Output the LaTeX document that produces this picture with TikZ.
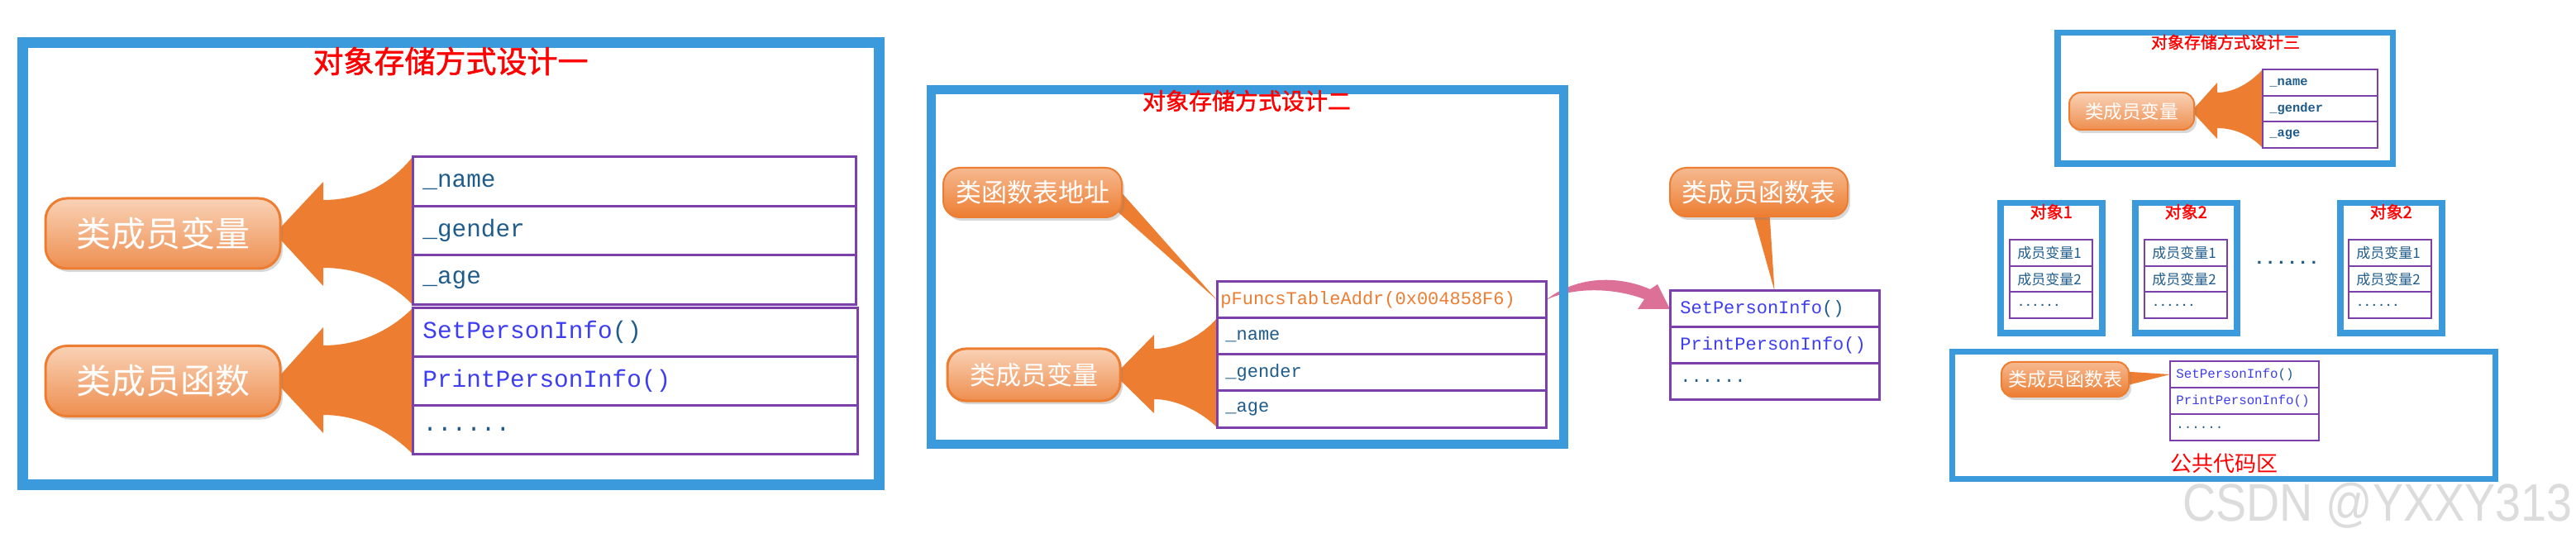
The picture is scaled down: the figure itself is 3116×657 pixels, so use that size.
\documentclass[tikz,border=0pt]{standalone}
\usepackage{fontspec}
\newfontfamily\cjk{Noto Sans CJK SC}
\newfontfamily\cjkb[FakeBold=1.5]{Noto Sans CJK SC}
\newfontfamily\code{Liberation Mono}
\newfontfamily\wmfont{Liberation Sans}
\usetikzlibrary{calc,shadows}
\pgfdeclarelayer{bg}
\pgfdeclarelayer{back}
\pgfsetlayers{bg,back,main}
\newcommand\setfs[1]{\fontsize{#1}{#1}\selectfont}
\definecolor{frameblue}{HTML}{3A9ADB}
\definecolor{rowpurple}{HTML}{7B40AA}
\definecolor{titlered}{HTML}{FF0000}
\definecolor{vteal}{HTML}{1F5C8B}
\definecolor{fblue}{HTML}{3D3DF2}
\definecolor{orangec}{HTML}{ED7D31}
\definecolor{pinkc}{HTML}{DC7096}
\definecolor{wmgray}{HTML}{DCDCDC}
\definecolor{softtop}{HTML}{F9D2B6}
\definecolor{softmid}{HTML}{F2A470}
\definecolor{softbot}{HTML}{EE8E4F}
\definecolor{solidtop}{HTML}{F6B990}
\begin{document}
\begin{tikzpicture}[x=0.5pt,y=-0.5pt,
  panelframe/.style={draw=frameblue, inner sep=0pt, outer sep=0pt, anchor=north west},
  rowbox/.style={draw=rowpurple, line width=1.5pt, inner sep=0pt, outer sep=0pt, anchor=north west},
  rowthin/.style={rowbox, line width=1.1pt},
  vtext/.style={text=vteal, anchor=west, inner sep=0pt},
  ftext/.style={text=fblue, anchor=west, inner sep=0pt},
  ttl/.style={text=titlered, inner sep=0pt},
  csoft/.style={draw=orangec, line width=1.5pt, top color=softtop, middle color=softmid, bottom color=softbot, text=white, inner sep=0pt, drop shadow={shadow xshift=1.5pt, shadow yshift=-2pt, opacity=0.3}},
  csolid/.style={draw=orangec, line width=1pt, top color=solidtop, middle color=orangec, bottom color=orangec, text=white, inner sep=0pt, drop shadow={shadow xshift=1.5pt, shadow yshift=-2pt, opacity=0.3}},
  bigarrow/.style={fill=orangec},
]
\begin{pgfonlayer}{bg}
\fill[white] (0,0) rectangle (3116,657);
\end{pgfonlayer}
\useasboundingbox (0,0) rectangle (3116,657);

%%%%%%%%%%%%%%%% Panel 1
\node[panelframe, line width=6.5pt, minimum width=518pt, minimum height=267.5pt] (P1) at (27.5,51.5) {};
\node[ttl, font=\cjkb\setfs{18.5}] (T1) at (545,74) {对象存储方式设计一};
% table A
\node[rowbox, minimum width=268pt, minimum height=29.75pt] (a1) at (499,190) {};
\node[rowbox, minimum width=268pt, minimum height=29.75pt] (a2) at (a1.south west) {};
\node[rowbox, minimum width=268pt, minimum height=29.75pt] (a3) at (a2.south west) {};
\node[vtext, font=\code\setfs{14.7}] (a1t) at ([xshift=6pt]a1.west) {\_name};
\node[vtext, font=\code\setfs{14.7}] (a2t) at ([xshift=6pt]a2.west) {\_gender};
\node[vtext, font=\code\setfs{14.7}] (a3t) at ([xshift=6pt]a3.west) {\_age};
% table B
\node[rowbox, minimum width=269pt, minimum height=29.35pt] (b1) at (499,373) {};
\node[rowbox, minimum width=269pt, minimum height=29.35pt] (b2) at (b1.south west) {};
\node[rowbox, minimum width=269pt, minimum height=29.35pt] (b3) at (b2.south west) {};
\node[ftext, font=\code\setfs{14.7}] (b1t) at ([xshift=6pt]b1.west) {SetPersonInfo\textcolor{vteal}{()}};
\node[ftext, font=\code\setfs{14.7}] (b2t) at ([xshift=6pt]b2.west) {PrintPersonInfo()};
\node[vtext, font=\code\setfs{14.7}] (b3t) at ([xshift=6pt]b3.west) {......};
% callouts
\node[csoft, rounded corners=13pt, minimum width=142pt, minimum height=42.5pt, font=\cjk\setfs{21}] (cv1) at (197,282.5) {类成员变量};
\node[csoft, rounded corners=13pt, minimum width=142pt, minimum height=42.5pt, font=\cjk\setfs{21}] (cf1) at (197,461) {类成员函数};
\begin{pgfonlayer}{back}
\fill[bigarrow] ([xshift=-4pt]cv1.east) -- (391,220) -- (391,242) .. controls (432,242) and (470,226) .. (a1.north west) -- (a3.south west) .. controls (470,339) and (432,324) .. (391,324) -- (391,346) -- cycle;
\fill[bigarrow] ([xshift=-4pt]cf1.east) -- (391,396) -- (391,418) .. controls (432,418) and (470,402) .. (b1.north west) -- (b3.south west) .. controls (470,520) and (432,502) .. (391,502) -- (391,524) -- cycle;
\end{pgfonlayer}

%%%%%%%%%%%%%%%% Panel 2
\node[panelframe, line width=5.5pt, minimum width=382.5pt, minimum height=214.5pt] (P2) at (1126.5,108.2) {};
\node[ttl, font=\cjkb\setfs{14}] (T2) at (1508,122) {对象存储方式设计二};
\node[rowbox, minimum width=199pt, minimum height=22pt] (pf) at (1472,341) {};
\node[rowbox, minimum width=199pt, minimum height=22pt] (c21) at (pf.south west) {};
\node[rowbox, minimum width=199pt, minimum height=22pt] (c22) at (c21.south west) {};
\node[rowbox, minimum width=199pt, minimum height=22pt] (c23) at (c22.south west) {};
\node[vtext, text=orangec, font=\code\setfs{11}] (pft) at ([xshift=2pt]pf.west) {pFuncsTableAddr(0x004858F6)};
\node[vtext, font=\code\setfs{11}] (c21t) at ([xshift=5pt]c21.west) {\_name};
\node[vtext, font=\code\setfs{11}] (c22t) at ([xshift=5pt]c22.west) {\_gender};
\node[vtext, font=\code\setfs{11}] (c23t) at ([xshift=5pt]c23.west) {\_age};
\node[csolid, rounded corners=10pt, minimum width=108pt, minimum height=30pt, font=\cjk\setfs{15.5}] (ca) at (1249,233) {类函数表地址};
\node[csoft, rounded corners=11pt, minimum width=104.5pt, minimum height=31.5pt, font=\cjk\setfs{15.5}] (cv2) at (1250.5,453.5) {类成员变量};
\begin{pgfonlayer}{back}
\fill[bigarrow] (1345,220) -- (pf.west) -- (1345,250) -- cycle;
\fill[bigarrow] ([xshift=-4pt]cv2.east) -- (1396,405) -- (1396,422) .. controls (1425,422) and (1455,405) .. (c21.north west) -- (c23.south west) .. controls (1455,500) and (1425,483) .. (1396,483) -- (1396,500) -- cycle;
\end{pgfonlayer}

%%%%%%%%%%%%%%%% function table
\node[rowbox, minimum width=126.5pt, minimum height=21.85pt] (ft1) at (2020,352) {};
\node[rowbox, minimum width=126.5pt, minimum height=21.85pt] (ft2) at (ft1.south west) {};
\node[rowbox, minimum width=126.5pt, minimum height=21.85pt] (ft3) at (ft2.south west) {};
\node[ftext, font=\code\setfs{11}] (ft1t) at ([xshift=6pt]ft1.west) {SetPersonInfo\textcolor{vteal}{()}};
\node[ftext, font=\code\setfs{11}] (ft2t) at ([xshift=6pt]ft2.west) {PrintPersonInfo()};
\node[vtext, font=\code\setfs{11}] (ft3t) at ([xshift=6pt]ft3.west) {......};
\node[csolid, rounded corners=10pt, minimum width=107.5pt, minimum height=29.5pt, font=\cjk\setfs{15.5}] (ftc) at (2127.5,232.5) {类成员函数表};
\begin{pgfonlayer}{back}
\fill[bigarrow] (2118,250) -- (ft1.north) -- (2140,250) -- cycle;
\fill[pinkc] (pf.east) .. controls (1905,335) and (1955,332) .. (1996,350) -- (2005,344) -- (ft1.west) -- (1981,374) -- (1989,362) .. controls (1950,347) and (1900,348) .. (pf.east) -- cycle;
\end{pgfonlayer}

%%%%%%%%%%%%%%%% Panel 3
\node[panelframe, line width=3.75pt, minimum width=202.75pt, minimum height=79.25pt] (P3) at (2488.75,39.75) {};
\node[ttl, font=\cjkb\setfs{10}] (T3) at (2692,51) {对象存储方式设计三};
\node[rowthin, minimum width=69.5pt, minimum height=15.85pt] (d1) at (2737,84) {};
\node[rowthin, minimum width=69.5pt, minimum height=15.85pt] (d2) at (d1.south west) {};
\node[rowthin, minimum width=69.5pt, minimum height=15.85pt] (d3) at (d2.south west) {};
\node[vtext, font=\code\bfseries\setfs{7.7}] (d1t) at ([xshift=4pt]d1.west) {\_name};
\node[vtext, font=\code\bfseries\setfs{7.7}] (d2t) at ([xshift=4pt]d2.west) {\_gender};
\node[vtext, font=\code\bfseries\setfs{7.7}] (d3t) at ([xshift=4pt]d3.west) {\_age};
\node[csoft, line width=1pt, rounded corners=7pt, minimum width=75.5pt, minimum height=22.5pt, font=\cjk\setfs{11.3}] (cv3) at (2578.5,134.5) {类成员变量};
\begin{pgfonlayer}{back}
\fill[bigarrow] ([xshift=-2pt]cv3.east) -- (2682,100) -- (2682,112) .. controls (2705,112) and (2725,97) .. (d1.north west) -- (d3.south west) .. controls (2725,166) and (2705,155) .. (2682,155) -- (2682,168) -- cycle;
\end{pgfonlayer}

%%%%%%%%%%%%%%%% Objects
\foreach \nm/\fx/\tx/\lab in {o1/2419.75/2431/对象1, o2/2582.75/2594/对象2, o3/2830.75/2841/对象2}{
  \node[panelframe, line width=3.75pt, minimum width=61.5pt, minimum height=78.75pt] (\nm) at (\fx,245.75) {};
  \node[ttl, font=\cjkb\setfs{10}] (\nm t) at ($(\nm.north)+(0,10.5)$) {\lab};
  \node[rowthin, minimum width=50pt, minimum height=15.85pt] (\nm r1) at (\tx,290) {};
  \node[rowthin, minimum width=50pt, minimum height=15.85pt] (\nm r2) at (\nm r1.south west) {};
  \node[rowthin, minimum width=50pt, minimum height=15.85pt] (\nm r3) at (\nm r2.south west) {};
  \node[vtext, font=\cjk\setfs{8.5}] (\nm r1t) at ([xshift=4.5pt]\nm r1.west) {成员变量1};
  \node[vtext, font=\cjk\setfs{8.5}] (\nm r2t) at ([xshift=4.5pt]\nm r2.west) {成员变量2};
  \node[vtext, font=\code\bfseries\setfs{7.2}] (\nm r3t) at ([xshift=4.5pt]\nm r3.west) {......};
}
\node[text=vteal, inner sep=0pt, font=\code\bfseries\setfs{11}] (mdots) at (2766,318) {......};

%%%%%%%%%%%%%%%% Bottom panel
\node[panelframe, line width=3.5pt, minimum width=328.5pt, minimum height=77pt] (P4) at (2361.5,425.5) {};
\node[rowthin, minimum width=90pt, minimum height=16pt] (e1) at (2625,437) {};
\node[rowthin, minimum width=90pt, minimum height=16pt] (e2) at (e1.south west) {};
\node[rowthin, minimum width=90pt, minimum height=16pt] (e3) at (e2.south west) {};
\node[ftext, font=\code\setfs{7.9}] (e1t) at ([xshift=3.5pt]e1.west) {SetPersonInfo\textcolor{vteal}{()}};
\node[ftext, font=\code\setfs{7.9}] (e2t) at ([xshift=3.5pt]e2.west) {PrintPersonInfo()};
\node[vtext, font=\code\setfs{7.9}] (e3t) at ([xshift=3.5pt]e3.west) {......};
\node[csolid, rounded corners=7pt, minimum width=77pt, minimum height=21pt, font=\cjk\setfs{11.5}] (fc2) at (2498,459) {类成员函数表};
\begin{pgfonlayer}{back}
\fill[bigarrow] (2562,449) -- (e1.west) -- (2562,469) -- cycle;
\end{pgfonlayer}
\node[ttl, font=\cjk\setfs{13}] (T4) at (2690,561) {公共代码区};

%%%%%%%%%%%%%%%% watermark
\node[anchor=base west, inner sep=0pt, text=wmgray, font=\wmfont\setfs{32}] (wm) at (2640,630) {\scalebox{0.87}[1]{CSDN @YXXY313}};
\end{tikzpicture}
\end{document}
